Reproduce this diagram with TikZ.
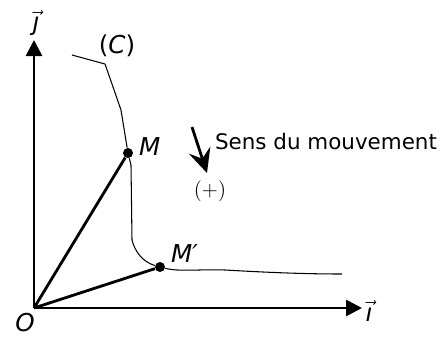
\documentclass[tikz,border=0pt]{standalone}
\usepackage{amsmath}
\usepackage{fontspec}
\setsansfont{DejaVu Sans}
\usepackage{tikz}
\usetikzlibrary{arrows.meta, positioning}
\newcommand{\vecsans}[1]{$\vec{\text{\sffamily\itshape #1}}$}

\begin{document}
\begin{tikzpicture}[x=0.02cm, y=-0.02cm,
  axis/.style={line width=1.6pt, -{Triangle[length=0.32cm, width=0.32cm]}},
  radius/.style={line width=1.6pt},
  curve/.style={line width=0.6pt},
  dot/.style={circle, fill=black, inner sep=0pt, minimum size=0.2cm},
  lbl/.style={font=\sffamily\itshape\fontsize{14}{16}\selectfont, inner sep=1pt},
  sens/.style={line width=1.6pt, -{Stealth[length=0.48cm, width=0.45cm, inset=0.18cm]}}
]
\useasboundingbox (0,0) rectangle (444,336);

% axes
\coordinate (O) at (34,308);
\coordinate (xend) at (362,308);
\coordinate (yend) at (34,40);
\draw[axis] (O) -- (xend);
\draw[axis] (O) -- (yend);
\node[lbl] (ilab) at (369,311) {\vecsans{ı}};
\node[lbl] (jlab) at (36,23) {\vecsans{ȷ}};
\node[lbl] (olab) at (25,323) {O};

% points on the trajectory
\node[dot] (M) at (128,153) {};
\node[dot] (Mp) at (160,267) {};
\node[lbl, anchor=west] (mlab) at (137,147) {M};
\node[lbl, anchor=west] (mplab) at (169,254) {M′};

% trajectory (C)
\draw[curve] (72,55) -- (105,64) -- (112,84) -- (121,110) -- (M)
  -- (131,165) -- (132,240) .. controls (135,252) and (143,262) .. (Mp)
  .. controls (180,272) and (200,269) .. (225,270)
  .. controls (260,272) and (300,274) .. (342,274);
\node[lbl, font=\sffamily\fontsize{14}{16}\selectfont] (clab) at (117,46) {(\textit{C})};

% position vectors
\draw[radius] (O) -- (M);
\draw[radius] (O) -- (Mp);

% direction of motion
\coordinate (s1) at (192,127);
\coordinate (s2) at (207,173);
\draw[sens] (s1) -- (s2);
\node[anchor=west, font=\sffamily\fontsize{12.2}{14}\selectfont, inner sep=1pt] (sens) at (213,142) {Sens du mouvement};
\node[font=\fontsize{12}{14}\selectfont, inner sep=1pt] (plus) at (210,191) {(+)};

\end{tikzpicture}
\end{document}
